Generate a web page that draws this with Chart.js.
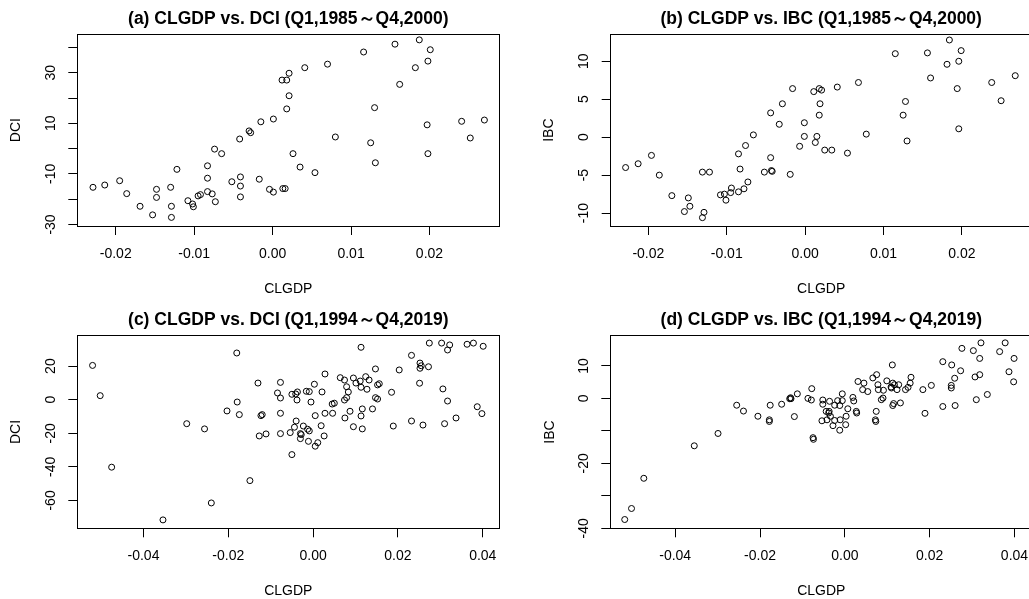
<!DOCTYPE html>
<html>
<head>
<meta charset="utf-8">
<script src="https://cdn.jsdelivr.net/npm/chart.js@4.4.1/dist/chart.umd.min.js"></script>
<style>
html,body{margin:0;padding:0;background:#fff;width:1029px;height:599px;overflow:hidden;position:relative;}
canvas{position:absolute;}
</style>
</head>
<body>
<canvas id="ca" width="514" height="300" style="left:0px;top:0px;"></canvas>
<canvas id="cb" width="533" height="300" style="left:514px;top:0px;"></canvas>
<canvas id="cc" width="514" height="300" style="left:0px;top:300px;"></canvas>
<canvas id="cd" width="533" height="300" style="left:514px;top:300px;"></canvas>
<script>
// ---------- data: panel (a) CLGDP vs DCI, Q1 1985 - Q4 2000 ----------
const aClgdp = [-0.0229,-0.0214,-0.0195,-0.0186,-0.0169,-0.0153,-0.0148,-0.0148,-0.0130,-0.0129,
 -0.0129,-0.0122,-0.0108,-0.0102,-0.0101,-0.0095,-0.0092,-0.0083,-0.0083,-0.0083,
 -0.0077,-0.0074,-0.0073,-0.0065,-0.0052,-0.0042,-0.0041,-0.0041,-0.0041,-0.0030,
 -0.0028,-0.0017,-0.0015,-0.0004,0.0001,0.0001,0.0012,0.0018,0.0021,0.0021,
 0.0018,0.0013,0.0016,0.0026,0.0035,0.0041,0.0054,0.0070,0.0080,0.0116,
 0.0125,0.0130,0.0131,0.0156,0.0162,0.0182,0.0187,0.0197,0.0198,0.0201,
 0.0198,0.0241,0.0252,0.0270];
const aDci = [-15.3,-14.4,-12.7,-17.8,-22.8,-26.2,-16.1,-19.3,-15.3,-22.8,
 -27.2,-8.2,-20.6,-21.9,-23.0,-18.7,-18.2,-6.8,-11.7,-17.0,
 -17.9,-0.2,-21.0,-2.0,-13.1,3.8,-11.2,-14.8,-19.1,7.0,
 6.3,-12.1,10.6,-16.1,-17.2,11.7,27.1,27.1,29.8,20.9,
 15.7,-15.8,-15.8,-2.0,-7.3,32.0,-9.5,33.4,4.6,38.2,
 2.3,16.2,-5.6,41.3,25.4,32.0,43.0,9.4,34.6,39.1,
 -2.0,10.8,4.2,11.3];

// ---------- data: panel (b) CLGDP vs IBC, Q1 1985 - Q4 2000 ----------
const bClgdp = [-0.0229,-0.0213,-0.0196,-0.0186,-0.0170,-0.0154,-0.0149,-0.0147,-0.0131,-0.0129,
 -0.0131,-0.0122,-0.0108,-0.0103,-0.0101,-0.0095,-0.0094,-0.0085,-0.0083,-0.0085,
 -0.0078,-0.0076,-0.0073,-0.0066,-0.0052,-0.0044,-0.0044,-0.0043,-0.0042,-0.0033,
 -0.0029,-0.0016,-0.0019,-0.0007,-0.0001,-0.0001,0.0011,0.0018,0.0021,0.0019,
 0.0018,0.0015,0.0013,0.0025,0.0034,0.0041,0.0054,0.0068,0.0078,0.0115,
 0.0125,0.0128,0.0130,0.0156,0.0160,0.0181,0.0184,0.0194,0.0196,0.0199,
 0.0196,0.0238,0.0250,0.0268];
const bIbc = [-4.0,-3.5,-2.4,-5.0,-7.7,-9.8,-8.0,-9.1,-4.6,-9.9,
 -10.6,-4.6,-7.6,-7.5,-8.3,-7.3,-6.7,-2.2,-4.2,-7.2,
 -6.8,-1.1,-5.9,0.3,-4.6,3.2,-2.7,-4.4,-4.5,1.7,
 4.4,6.4,-4.9,-1.2,1.9,0.1,6.0,6.4,6.2,4.4,
 2.9,0.1,-0.7,-1.7,-1.7,6.6,-2.1,7.2,0.4,11.0,
 2.9,4.7,-0.5,11.1,7.8,9.6,12.8,6.4,10.0,11.4,
 1.1,7.2,4.8,8.1];

// ---------- data: panel (c) CLGDP vs DCI, Q1 1994 - Q4 2019 ----------
const cClgdp = [-0.0520,-0.0502,-0.0475,-0.0354,-0.0298,
 -0.0180,-0.0256,-0.0240,-0.0149,-0.0203,-0.0179,-0.0174,-0.0130,-0.0127,-0.0123,
 -0.0120,-0.0111,-0.0077,-0.0084,-0.0077,-0.0077,-0.0077,-0.0054,-0.0050,-0.0041,
 -0.0037,-0.0038,-0.0050,-0.0040,-0.0044,-0.0030,-0.0028,-0.0023,-0.0030,-0.0016,
 -0.0009,-0.0005,-0.0013,-0.0009,-0.0011,0.0003,0.0005,0.0005,0.0011,0.0021,
 0.0019,0.0026,0.0028,0.0028,0.0045,0.0050,0.0046,0.0064,0.0074,0.0079,
 0.0074,0.0079,0.0075,
 0.0113,0.0274,0.0303,0.0322,0.0317,0.0363,0.0378,0.0401,0.0232,0.0252,
 0.0255,0.0252,0.0272,0.0203,0.0147,0.0124,0.0132,0.0095,0.0101,0.0111,
 0.0113,0.0127,0.0083,0.0087,0.0095,0.0116,0.0113,0.0116,0.0140,0.0147,
 0.0152,0.0152,0.0156,0.0185,0.0189,0.0232,0.0259,0.0251,0.0306,0.0317,
 0.0310,0.0337,0.0387,0.0398];
const cDci = [20.4,2.4,-40.2,-71.6,-14.3,
 27.8,-17.4,-61.5,-48.2,-6.7,-1.4,-8.9,9.9,-21.6,-9.5,
 -8.9,-20.4,10.3,4.0,1.0,-8.1,-20.2,-19.6,3.2,3.4,
 4.6,-0.2,-32.7,-12.7,-16.4,-20.2,-20.8,-15.7,-23.2,5.0,
 4.8,-1.4,-17.6,-18.6,-24.8,9.2,-9.5,-27.7,-25.6,4.6,
 -15.5,-21.6,15.3,-8.1,-2.6,-2.1,-8.1,13.1,11.7,7.7,
 -0.2,1.2,-10.9,
 31.2,33.7,33.7,32.6,29.6,33.0,33.7,31.8,26.4,21.8,
 20.2,18.7,19.6,17.7,18.3,13.7,11.7,12.9,9.9,11.1,
 7.4,6.2,4.6,-6.9,-16.1,-17.4,-9.7,-5.5,-5.5,1.2,
 0.4,8.8,9.5,4.4,-15.7,-12.7,-15.1,9.8,6.4,-0.8,
 -14.3,-10.9,-4.2,-8.3];

// ---------- data: panel (d) CLGDP vs IBC, Q1 1994 - Q4 2019 ----------
const dClgdp = [-0.0519,-0.0503,-0.0474,-0.0355,-0.0299,
 -0.0255,-0.0239,-0.0205,-0.0178,-0.0178,-0.0176,-0.0149,-0.0130,-0.0127,-0.0128,
 -0.0112,-0.0119,-0.0078,-0.0087,-0.0079,-0.0075,-0.0074,-0.0052,-0.0052,-0.0054,
 -0.0044,-0.0042,-0.0038,-0.0037,-0.0036,-0.0034,-0.0028,-0.0024,-0.0024,-0.0017,
 -0.0012,-0.0012,-0.0011,-0.0006,-0.0006,0.0002,0.0003,0.0007,0.0019,0.0021,
 0.0027,0.0028,0.0031,0.0045,0.0042,0.0054,0.0066,0.0075,0.0078,0.0079,
 0.0074,0.0072,0.0073,
 0.0112,0.0091,0.0099,0.0090,0.0086,0.0113,0.0117,0.0109,0.0110,0.0127,
 0.0123,0.0113,0.0115,0.0131,0.0143,0.0149,0.0154,0.0156,0.0184,0.0189,
 0.0204,0.0231,0.0231,0.0252,0.0259,0.0251,0.0251,0.0260,0.0273,0.0276,
 0.0303,0.0321,0.0318,0.0307,0.0318,0.0310,0.0336,0.0365,0.0378,0.0399,
 0.0387,0.0398];
const dIbc = [-37.3,-33.9,-24.6,-14.6,-10.8,
 -2.1,-3.9,-5.5,-6.6,-7.1,-2.1,-1.8,-0.1,-0.1,0.2,
 1.4,-5.6,3.0,0.0,-0.5,-12.1,-12.6,-0.5,-1.8,-6.9,
 -4.0,-6.6,-4.5,-4.0,-0.9,-5.5,-8.4,-2.1,-6.8,-0.7,
 -2.2,-9.8,-6.6,1.4,-0.7,-8.1,-5.5,-3.2,0.3,-0.8,
 -4.0,-4.5,5.2,4.7,2.7,2.1,6.3,7.3,4.2,2.7,
 -4.0,-6.6,-7.1,
 10.3,2.5,5.4,0.1,-0.4,4.7,4.2,3.5,3.2,4.2,
 2.7,-2.2,-1.6,-1.4,2.7,3.4,4.7,6.5,2.7,-4.6,
 4.0,11.3,-2.5,10.3,6.2,4.0,3.2,-2.2,8.5,15.4,
 14.7,17.1,12.3,6.6,7.3,-0.4,1.2,14.4,17.1,12.3,
 8.2,5.1];

// ---------- tick values and labels ----------
const xTicks85 = [-0.02,-0.01,0,0.01,0.02];
const xLabels85 = ['-0.02','-0.01','0.00','0.01','0.02'];
const xTicks94 = [-0.04,-0.02,0,0.02,0.04];
const xLabels94 = ['-0.04','-0.02','0.00','0.02','0.04'];
const aYTicks = [-30,-20,-10,0,10,20,30,40];
const aYLabels = ['-30','','-10','','10','','30',''];
const bYTicks = [-10,-5,0,5,10];
const bYLabels = ['-10','-5','0','5','10'];
const cYTicks = [-60,-40,-20,0,20];
const cYLabels = ['-60','-40','-20','0','20'];
const dYTicks = [-40,-30,-20,-10,0,10];
const dYLabels = ['-40','','-20','','0','10'];

const titles = [
  '(a) CLGDP vs. DCI (Q1,1985\uFF5EQ4,2000)',
  '(b) CLGDP vs. IBC (Q1,1985\uFF5EQ4,2000)',
  '(c) CLGDP vs. DCI (Q1,1994\uFF5EQ4,2019)',
  '(d) CLGDP vs. IBC (Q1,1994\uFF5EQ4,2019)'
];

// ---------- rendering ----------
const FONT = '"Liberation Sans", Arial, Helvetica, sans-serif';

const framePlugin = {
  id: 'frame',
  afterDraw(chart) {
    const a = chart.chartArea, ctx = chart.ctx;
    const al = p => Math.round(p - 0.5) + 0.5;
    ctx.save();
    ctx.strokeStyle = '#000';
    ctx.lineWidth = 1;
    const l = al(a.left), r = al(a.right), t = al(a.top), b = al(a.bottom);
    ctx.strokeRect(l, t, r - l, b - t);
    ctx.restore();
  }
};

function makePanel(id, title, xs, ys, yName, g) {
  const pts = xs.map((x, i) => ({x: x, y: ys[i]}));
  const W = g.W, H = 300;
  new Chart(document.getElementById(id), {
    type: 'scatter',
    data: { datasets: [{
      data: pts,
      pointStyle: 'circle',
      pointRadius: 3,
      pointBorderWidth: 1,
      pointBorderColor: '#000',
      pointBackgroundColor: 'rgba(0,0,0,0)',
      pointHoverRadius: 3
    }]},
    options: {
      responsive: false,
      animation: false,
      devicePixelRatio: 1,
      events: [],
      layout: { padding: { left: 0, top: 0, bottom: 0, right: W - g.right } },
      plugins: {
        legend: { display: false },
        tooltip: { enabled: false },
        title: {
          display: true, text: title, fullSize: false,
          color: '#000',
          font: { family: FONT, size: 17.5, weight: 'bold', lineHeight: 1.2 },
          padding: { top: g.top - 21 - 4.8, bottom: 4.8 }
        }
      },
      scales: {
        x: {
          type: 'linear', position: 'bottom',
          min: g.xmin, max: g.xmax,
          afterBuildTicks: s => { s.ticks = g.xTicks.map(v => ({value: v})); },
          afterFit: s => { s.height = H - g.bottom; },
          grid: { display: true, drawOnChartArea: false, drawTicks: true, tickLength: 9, color: '#000', lineWidth: 1 },
          border: { display: true, color: '#000', width: 1 },
          ticks: {
            autoSkip: false, minRotation: 0, maxRotation: 0, padding: 10.6,
            color: '#000', font: { family: FONT, size: 14, lineHeight: 1.2 },
            callback: (v, i) => g.xLabels[i]
          },
          title: { display: true, text: 'CLGDP', color: '#000',
            font: { family: FONT, size: 14, lineHeight: 1.2 },
            padding: { top: 0, bottom: g.xTitleBottom } }
        },
        y: {
          type: 'linear', position: 'left',
          min: g.ymin, max: g.ymax,
          afterBuildTicks: s => { s.ticks = g.yTicks.map(v => ({value: v})); },
          afterFit: s => { s.width = g.left; },
          grid: { display: true, drawOnChartArea: false, drawTicks: true, tickLength: 9, color: '#000', lineWidth: 1 },
          border: { display: true, color: '#000', width: 1 },
          ticks: {
            autoSkip: false, minRotation: 90, maxRotation: 90, crossAlign: 'center', padding: 7.2,
            color: '#000', font: { family: FONT, size: 14, lineHeight: 1.2 },
            callback: (v, i) => g.yLabels[i]
          },
          title: { display: true, text: yName, color: '#000',
            font: { family: FONT, size: 14, lineHeight: 1.2 },
            padding: { top: g.yTitleX - 8.4, bottom: 0 } }
        }
      }
    },
    plugins: [framePlugin]
  });
}

makePanel('ca', titles[0], aClgdp, aDci, 'DCI', {
  W: 514, left: 77.3, right: 499.3, top: 34.3, bottom: 226,
  xmin: -0.0249, xmax: 0.0289, ymin: -30.6, ymax: 45.2,
  xTicks: xTicks85, xLabels: xLabels85, yTicks: aYTicks, yLabels: aYLabels,
  xTitleBottom: 2.2, yTitleX: 16
});
makePanel('cb', titles[1], bClgdp, bIbc, 'IBC', {
  W: 533, left: 96.7, right: 517.7, top: 34.3, bottom: 226,
  xmin: -0.0248, xmax: 0.0289, ymin: -11.7, ymax: 13.55,
  xTicks: xTicks85, xLabels: xLabels85, yTicks: bYTicks, yLabels: bYLabels,
  xTitleBottom: 2.2, yTitleX: 35
});
makePanel('cc', titles[2], cClgdp, cDci, 'DCI', {
  W: 514, left: 77.3, right: 499.3, top: 35.7, bottom: 228.3,
  xmin: -0.0556, xmax: 0.0439, ymin: -76.6, ymax: 38.1,
  xTicks: xTicks94, xLabels: xLabels94, yTicks: cYTicks, yLabels: cYLabels,
  xTitleBottom: 0.4, yTitleX: 16
});
makePanel('cd', titles[3], dClgdp, dIbc, 'IBC', {
  W: 533, left: 96.3, right: 518.3, top: 35.7, bottom: 228.3,
  xmin: -0.0553, xmax: 0.0442, ymin: -40.0, ymax: 19.3,
  xTicks: xTicks94, xLabels: xLabels94, yTicks: dYTicks, yLabels: dYLabels,
  xTitleBottom: 0.4, yTitleX: 36
});
</script>
</body>
</html>
